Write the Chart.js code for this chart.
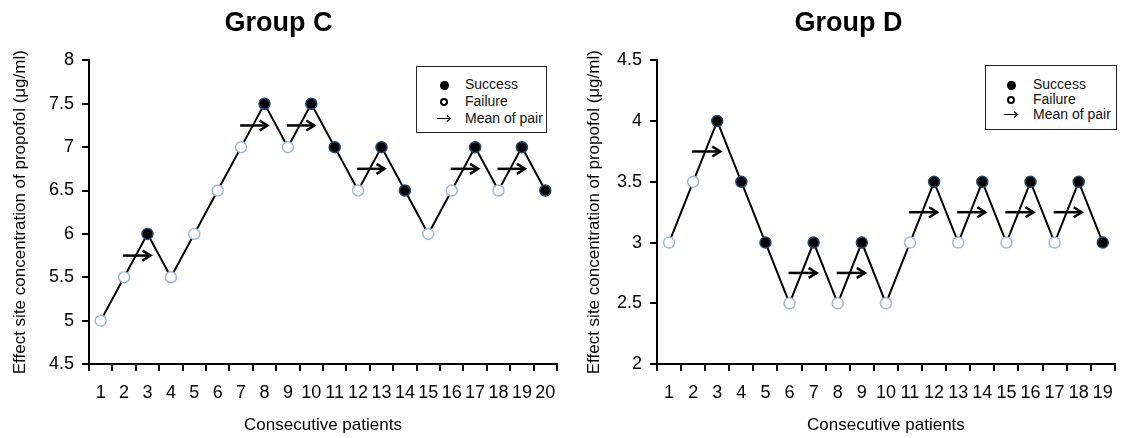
<!DOCTYPE html>
<html>
<head>
<meta charset="utf-8">
<script src="https://cdn.jsdelivr.net/npm/chart.js@4.4.0/dist/chart.umd.min.js"></script>
<style>
  html, body { margin: 0; padding: 0; background: #fff; }
  body { position: relative; width: 1124px; height: 438px; overflow: hidden; font-family: "Liberation Sans", Arial, sans-serif; }
  #left { position: absolute; left: 0; top: 0; }
  #right { position: absolute; left: 575px; top: 0; }
  .legend { position: absolute; border: 1.5px solid #222; box-sizing: border-box; background: #fff; font-size: 14px; color: #111; }
  .legend .row { position: absolute; left: 0; height: 16px; line-height: 16px; white-space: nowrap; }
  .legend .sym { position: absolute; top: 0; width: 16px; height: 16px; text-align: center; }
  .legend .sym svg { position: absolute; left: 1px; top: 4px; }
  .dot { display: inline-block; width: 9px; height: 9px; border-radius: 50%; vertical-align: middle; box-sizing: border-box; }
  .dot.fill { background: #000; }
  .dot.open { border: 2px solid #000; background: #fff; width: 8px; height: 8px; }
</style>
</head>
<body>
<canvas id="left" width="575" height="438"></canvas>
<canvas id="right" width="549" height="438"></canvas>

<div class="legend" style="left:416px; top:66px; width:131px; height:67px;">
  <div class="row" style="top:9px;"><span class="sym" style="left:19px;"><span class="dot fill"></span></span><span style="position:absolute; left:48px;">Success</span></div>
  <div class="row" style="top:26px;"><span class="sym" style="left:19px;"><span class="dot open"></span></span><span style="position:absolute; left:48px;">Failure</span></div>
  <div class="row" style="top:43px;"><span class="sym" style="left:19px;"><svg width="15" height="9" viewBox="0 0 15 9"><path d="M0 4.5H13.5M10 1.5L13.5 4.5L10 7.5" fill="none" stroke="#000" stroke-width="1.2"/></svg></span><span style="position:absolute; left:48px;">Mean of pair</span></div>
</div>
<div class="legend" style="left:985px; top:65px; width:132px; height:65px;">
  <div class="row" style="top:10px;"><span class="sym" style="left:17px;"><span class="dot fill"></span></span><span style="position:absolute; left:47px;">Success</span></div>
  <div class="row" style="top:25px;"><span class="sym" style="left:17px;"><span class="dot open"></span></span><span style="position:absolute; left:47px;">Failure</span></div>
  <div class="row" style="top:40px;"><span class="sym" style="left:17px;"><svg width="15" height="9" viewBox="0 0 15 9"><path d="M0 4.5H13.5M10 1.5L13.5 4.5L10 7.5" fill="none" stroke="#000" stroke-width="1.2"/></svg></span><span style="position:absolute; left:47px;">Mean of pair</span></div>
</div>

<script>
// Group C
var patientsC = ["1", "2", "3", "4", "5", "6", "7", "8", "9", "10", "11", "12", "13", "14", "15", "16", "17", "18", "19", "20"];
var concC = [5, 5.5, 6, 5.5, 6, 6.5, 7, 7.5, 7, 7.5, 7, 6.5, 7, 6.5, 6, 6.5, 7, 6.5, 7, 6.5];
var successC = [0, 0, 1, 0, 0, 0, 0, 1, 0, 1, 1, 0, 1, 1, 0, 0, 1, 0, 1, 1];
var pairStartC = [2, 7, 9, 12, 16, 18];
var pairMeanC = [5.75, 7.25, 7.25, 6.75, 6.75, 6.75];
var yTicksC = [4.5, 5, 5.5, 6, 6.5, 7, 7.5, 8];

// Group D
var patientsD = ["1", "2", "3", "4", "5", "6", "7", "8", "9", "10", "11", "12", "13", "14", "15", "16", "17", "18", "19"];
var concD = [3, 3.5, 4, 3.5, 3, 2.5, 3, 2.5, 3, 2.5, 3, 3.5, 3, 3.5, 3, 3.5, 3, 3.5, 3];
var successD = [0, 0, 1, 1, 1, 0, 1, 0, 1, 0, 0, 1, 0, 1, 0, 1, 0, 1, 1];
var pairStartD = [2, 6, 8, 11, 13, 15, 17];
var pairMeanD = [3.75, 2.75, 2.75, 3.25, 3.25, 3.25, 3.25];
var yTicksD = [2, 2.5, 3, 3.5, 4, 4.5];

var FONT = "'Liberation Sans', Arial, sans-serif";
var Y_TITLE = "Effect site concentration of propofol (\u03bcg/ml)";

// arrows for the mean of each success/failure pair
var pairArrows = {
  id: "pairArrows",
  afterDatasetsDraw: function (chart, args, opts) {
    var ctx = chart.ctx;
    var xs = chart.scales.x;
    var ys = chart.scales.y;
    ctx.save();
    ctx.strokeStyle = "#000";
    ctx.lineWidth = 2.5;
    opts.starts.forEach(function (p, i) {
      var x0 = xs.getPixelForValue(p - 1) - 1;
      var x1 = xs.getPixelForValue(p) + 3;
      var y = ys.getPixelForValue(opts.means[i]);
      ctx.beginPath();
      ctx.moveTo(x0, y);
      ctx.lineTo(x1, y);
      ctx.stroke();
      ctx.beginPath();
      ctx.moveTo(x1 - 8, y - 5);
      ctx.lineTo(x1, y);
      ctx.lineTo(x1 - 8, y + 5);
      ctx.stroke();
    });
    ctx.restore();
  },
};

function makeChart(canvas, cfg) {
  return new Chart(canvas.getContext("2d"), {
    type: "line",
    data: {
      labels: cfg.labels,
      datasets: [
        {
          data: cfg.values,
          borderColor: "#000",
          borderWidth: 2,
          tension: 0,
          pointRadius: 5.5,
          pointBorderWidth: 1.5,
          pointBackgroundColor: function (c) {
            return cfg.success[c.dataIndex] ? "#000" : "#fff";
          },
          pointBorderColor: function (c) {
            return cfg.success[c.dataIndex] ? "#27466f" : "#9db8de";
          },
        },
      ],
    },
    plugins: [pairArrows],
    options: {
      responsive: false,
      animation: false,
      layout: { padding: { left: 0, right: cfg.padRight, top: 0, bottom: 0 } },
      plugins: {
        legend: { display: false },
        tooltip: { enabled: false },
        title: {
          display: true,
          text: cfg.title,
          color: "#000",
          font: { family: FONT, size: 27, weight: "bold" },
          padding: { top: 7, bottom: 21 },
        },
        pairArrows: { starts: cfg.pairStarts, means: cfg.pairMeans },
      },
      scales: {
        x: {
          offset: true,
          border: { display: true, color: "#000", width: 2 },
          grid: { offset: true, drawOnChartArea: false, drawTicks: true, tickLength: 7, color: "#000", lineWidth: 2 },
          ticks: { color: "#000", autoSkip: false, maxRotation: 0, padding: 11, font: { family: FONT, size: 18 } },
          title: {
            display: true,
            text: "Consecutive patients",
            color: "#000",
            font: { family: FONT, size: 17 },
            padding: { top: 0, bottom: 2 },
          },
          afterFit: function (scale) {
            scale.height = 74;
          },
        },
        y: {
          min: cfg.yTicks[0],
          max: cfg.yTicks[cfg.yTicks.length - 1],
          border: { display: true, color: "#000", width: 2 },
          grid: { drawOnChartArea: false, drawTicks: true, tickLength: 7, color: "#000", lineWidth: 2 },
          ticks: {
            color: "#000",
            padding: 8,
            font: { family: FONT, size: 18 },
            callback: function (v) {
              return String(v);
            },
          },
          afterBuildTicks: function (scale) {
            scale.ticks = cfg.yTicks.map(function (v) {
              return { value: v };
            });
          },
          title: {
            display: true,
            text: Y_TITLE,
            color: "#000",
            font: { family: FONT, size: 17 },
            padding: { top: cfg.yTitlePad, bottom: 0 },
          },
          afterFit: function (scale) {
            scale.width = cfg.yWidth;
          },
        },
      },
    },
  });
}

makeChart(document.getElementById("left"), {
  title: "Group C",
  labels: patientsC,
  values: concC,
  success: successC,
  pairStarts: pairStartC,
  pairMeans: pairMeanC,
  yTicks: yTicksC,
  yWidth: 89,
  yTitlePad: 10,
  padRight: 18,
});

makeChart(document.getElementById("right"), {
  title: "Group D",
  labels: patientsD,
  values: concD,
  success: successD,
  pairStarts: pairStartD,
  pairMeans: pairMeanD,
  yTicks: yTicksD,
  yWidth: 82,
  yTitlePad: 9,
  padRight: 2,
});
</script>
</body>
</html>
